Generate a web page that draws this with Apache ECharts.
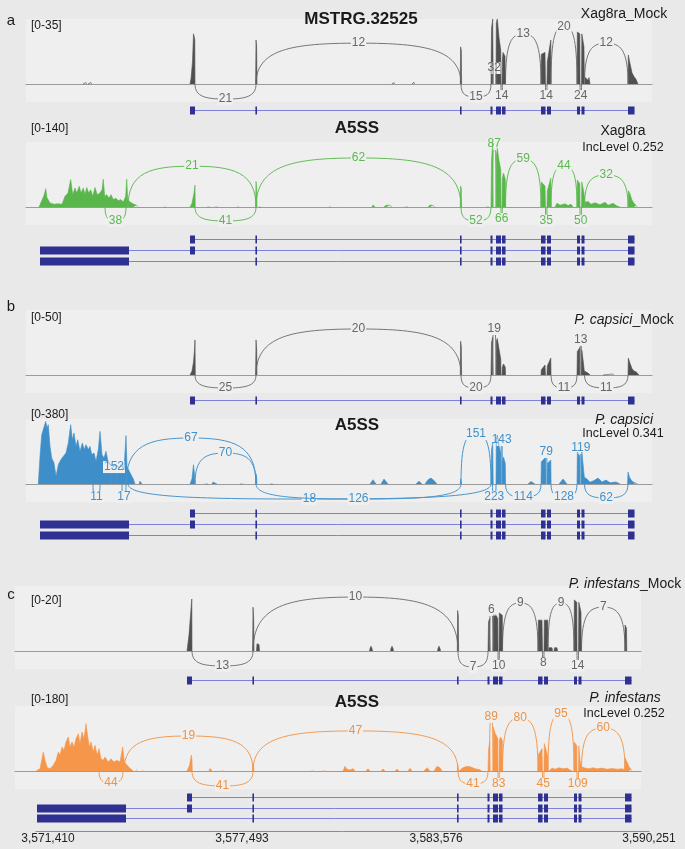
<!DOCTYPE html>
<html>
<head>
<meta charset="utf-8">
<title>MSTRG.32525 sashimi</title>
<script src="https://cdn.jsdelivr.net/npm/echarts@6/dist/echarts.min.js"></script>
<style>
  html, body { margin: 0; padding: 0; background: #e9e9e9; }
  #chart { width: 685px; height: 849px; }
</style>
</head>
<body>
<div id="chart"></div>
<script>
// read coverage, one list of [genomic position, reads] per covered stretch
const covXagMock = [
  [[3572507,0],[3572523,0.8],[3572601,0.8],[3572617,0]],
  [[3572664,0],[3572680,0.8],[3572758,0.8],[3572774,0]],
  [[3575862,0],[3575893,3],[3575940,12],[3575971,27],[3576012,24],[3576018,0]],
  [[3577918,0],[3577931,23.7],[3577950,20],[3577962,0]],
  [[3582194,0],[3582210,0.8],[3582257,0.8],[3582273,0]],
  [[3582821,0],[3582837,1],[3582884,1],[3582899,0]],
  [[3584335,0],[3584345,20],[3584367,18],[3584376,0]],
  [[3585298,0],[3585314,30],[3585351,35],[3585367,0]],
  [[3585455,0],[3585464,33],[3585496,35],[3585549,25],[3585605,18],[3585611,0]],
  [[3585643,0],[3585652,12],[3585674,17],[3585737,15],[3585752,0]],
  [[3586865,0],[3586875,16],[3586991,17],[3587006,0]],
  [[3587053,0],[3587063,12],[3587173,23.7],[3587179,0]],
  [[3587994,0],[3588004,28],[3588082,27],[3588088,0]],
  [[3588135,0],[3588145,27],[3588213,20],[3588223,4],[3588276,3],[3588339,2],[3588370,3.5],[3588402,0]],
  [[3589593,0],[3589603,15.6],[3589656,11],[3589718,6],[3589781,4],[3589844,2.5],[3589906,0]]
];
const covXag = [
  [[3571128,0],[3571159,5],[3571222,15],[3571284,25],[3571338,39.5],[3571378,20],[3571473,8.6],[3571598,6],[3571723,7],[3571849,6],[3571943,23],[3572037,30],[3572121,59],[3572184,26.5],[3572256,41],[3572309,30],[3572391,44.5],[3572444,30],[3572516,41],[3572570,26.5],[3572623,42],[3572686,30],[3572748,37],[3572811,23],[3572883,42],[3572955,26.5],[3573040,30],[3573103,37],[3573143,60],[3573187,23],[3573250,26.5],[3573322,19],[3573385,26.5],[3573457,16],[3573542,19],[3573614,13.6],[3573689,16],[3573771,10.8],[3573846,23],[3573877,60],[3573909,16],[3573981,10.8],[3574085,6.5],[3574190,3.6],[3574241,0]],
  [[3575046,0],[3575078,2.5],[3575109,0]],
  [[3575862,0],[3575924,8],[3575987,30],[3576018,47],[3576027,0]],
  [[3576394,0],[3576426,3],[3576489,0]],
  [[3576645,0],[3576677,3.5],[3576739,0]],
  [[3577335,0],[3577366,3],[3577398,0]],
  [[3577918,0],[3577931,55],[3577950,40],[3577962,0]],
  [[3578025,0],[3578056,2.5],[3578087,0]],
  [[3580219,0],[3580251,2.5],[3580282,0]],
  [[3581567,0],[3581599,4.5],[3581661,0]],
  [[3581943,0],[3582006,4],[3582132,3.5],[3582194,0]],
  [[3582602,0],[3582633,3],[3582696,0]],
  [[3583323,0],[3583386,4.3],[3583480,3],[3583542,0]],
  [[3584335,0],[3584345,45],[3584367,40],[3584376,0]],
  [[3585141,0],[3585172,4],[3585235,0]],
  [[3585298,0],[3585314,100],[3585351,138],[3585367,0]],
  [[3585455,0],[3585464,110],[3585496,127],[3585549,100],[3585605,80],[3585611,0]],
  [[3585643,0],[3585652,60],[3585690,73],[3585746,60],[3585755,0]],
  [[3586865,0],[3586875,54],[3586991,45],[3587006,0]],
  [[3587053,0],[3587063,35],[3587173,62],[3587182,0]],
  [[3587304,0],[3587367,8],[3587461,4],[3587618,7],[3587712,3],[3587806,6],[3587868,0]],
  [[3587994,0],[3588004,58],[3588082,50],[3588088,0]],
  [[3588135,0],[3588145,54],[3588213,30],[3588245,10],[3588339,12],[3588433,6],[3588558,9],[3588715,5],[3588872,10],[3588966,4],[3589123,8],[3589248,2],[3589342,0]],
  [[3589593,0],[3589609,35],[3589656,28],[3589718,15],[3589781,8],[3589844,3],[3589875,0]]
];
const covCapMock = [
  [[3575862,0],[3575924,3],[3575971,10],[3576006,20],[3576018,27],[3576027,0]],
  [[3577918,0],[3577931,27],[3577950,20],[3577962,0]],
  [[3584335,0],[3584345,26],[3584367,22],[3584376,0]],
  [[3585298,0],[3585314,25],[3585351,29],[3585367,0]],
  [[3585455,0],[3585464,26],[3585496,28],[3585549,20],[3585605,12],[3585611,0]],
  [[3585643,0],[3585652,6],[3585690,8.5],[3585746,6],[3585755,0]],
  [[3586865,0],[3586875,4],[3586991,7.7],[3587006,0]],
  [[3587053,0],[3587063,7],[3587173,13],[3587179,0]],
  [[3587994,0],[3588004,18],[3588082,21],[3588088,0]],
  [[3588135,0],[3588145,19],[3588182,12],[3588223,3],[3588276,2.3],[3588339,1.5],[3588402,0]],
  [[3588809,0],[3588825,0.8],[3589123,0.8],[3589139,0]],
  [[3589593,0],[3589603,13],[3589656,9],[3589718,5],[3589781,3],[3589844,2.5],[3589906,1],[3589937,0]]
];
const covCap = [
  [[3571106,0],[3571159,162],[3571212,288],[3571262,279],[3571338,366],[3571378,327],[3571419,347],[3571473,220],[3571526,152],[3571598,123],[3571661,45],[3571733,113],[3571786,133],[3571849,152],[3571911,142],[3571974,181],[3572046,240],[3572121,347],[3572172,259],[3572225,298],[3572288,220],[3572341,259],[3572413,191],[3572485,240],[3572548,201],[3572601,230],[3572673,201],[3572727,220],[3572780,172],[3572852,181],[3572915,133],[3572987,201],[3573040,308],[3573103,172],[3573165,152],[3573228,191],[3573291,133],[3573354,113],[3573457,103],[3573542,113],[3573636,94],[3573698,113],[3573792,84],[3573855,283],[3573886,103],[3573959,74],[3574012,55],[3574084,29],[3574137,0]],
  [[3574263,0],[3574294,16],[3574357,0]],
  [[3575862,0],[3575924,30],[3575971,113],[3576002,60],[3576024,0]],
  [[3576332,0],[3576363,10],[3576426,0]],
  [[3576551,0],[3576583,12],[3576645,8],[3576708,0]],
  [[3577429,0],[3577461,8],[3577523,0]],
  [[3577918,0],[3577931,60],[3577950,40],[3577962,0]],
  [[3578370,0],[3578401,10],[3578464,0]],
  [[3581505,0],[3581599,25],[3581693,0]],
  [[3581849,0],[3581943,29],[3582069,0]],
  [[3582947,0],[3583041,16],[3583135,0]],
  [[3583229,0],[3583323,25],[3583417,35],[3583511,20],[3583605,0]],
  [[3584335,0],[3584345,30],[3584367,25],[3584376,0]],
  [[3585298,0],[3585314,200],[3585351,245],[3585367,0]],
  [[3585455,0],[3585464,260],[3585496,286],[3585549,220],[3585605,180],[3585611,0]],
  [[3585643,0],[3585652,130],[3585690,158],[3585746,120],[3585755,0]],
  [[3586458,0],[3586552,15],[3586677,0]],
  [[3586865,0],[3586875,130],[3586991,152],[3587006,0]],
  [[3587053,0],[3587063,120],[3587173,140],[3587182,0]],
  [[3587430,0],[3587555,29],[3587680,0]],
  [[3587994,0],[3588004,187],[3588082,160],[3588088,0]],
  [[3588135,0],[3588145,187],[3588182,120],[3588223,40],[3588307,29],[3588402,10],[3588527,20],[3588652,35],[3588778,12],[3588903,23],[3589029,8],[3589217,12],[3589342,0]],
  [[3589577,0],[3589593,70],[3589640,40],[3589687,25],[3589750,12],[3589844,5],[3589906,0]]
];
const covInfMock = [
  [[3575862,0],[3575924,5],[3575987,13],[3576012,16],[3576018,0]],
  [[3577918,0],[3577931,13.5],[3577950,10],[3577962,0]],
  [[3578040,0],[3578056,2.2],[3578119,2],[3578135,0]],
  [[3581583,0],[3581599,0.8],[3581630,1.5],[3581661,0.8],[3581677,0]],
  [[3582241,0],[3582257,0.8],[3582288,1.5],[3582320,0.8],[3582335,0]],
  [[3583715,0],[3583730,0.8],[3583762,1.5],[3583793,0.8],[3583809,0]],
  [[3584335,0],[3584345,12.5],[3584367,11],[3584376,0]],
  [[3585298,0],[3585314,9],[3585351,10],[3585367,0]],
  [[3585455,0],[3585464,11],[3585549,11],[3585605,10],[3585611,0]],
  [[3585643,0],[3585652,11.7],[3585746,11],[3585755,0]],
  [[3586865,0],[3586875,9.5],[3586991,9.5],[3587006,0]],
  [[3587053,0],[3587063,9.5],[3587173,9.5],[3587179,0]],
  [[3587195,0],[3587210,1],[3587304,1],[3587320,0]],
  [[3587367,0],[3587383,1],[3587461,1],[3587477,0]],
  [[3587994,0],[3588004,15.7],[3588082,15],[3588088,0]],
  [[3588135,0],[3588145,15],[3588213,12],[3588223,0]],
  [[3589587,0],[3589593,8],[3589640,7],[3589649,0]]
];
const covInf = [
  [[3571128,0],[3571253,6.5],[3571357,52.6],[3571410,29.5],[3571482,9.2],[3571567,6.5],[3571670,15.7],[3571755,29.5],[3571827,52.6],[3571880,43.4],[3571943,66.5],[3572005,57.2],[3572068,80.3],[3572140,94],[3572194,66.5],[3572256,80.3],[3572319,66.5],[3572382,89.5],[3572454,103],[3572507,75.7],[3572570,108],[3572632,89.5],[3572695,131],[3572736,103],[3572799,66.5],[3572852,80.3],[3572924,52.6],[3572977,71],[3573049,43.4],[3573103,61.8],[3573165,34],[3573237,29.5],[3573291,38.8],[3573394,25],[3573479,34],[3573573,25],[3573658,29.5],[3573761,25],[3573846,66.5],[3573896,25],[3573949,20.3],[3574053,9.2],[3574106,6.5],[3574178,0]],
  [[3574263,0],[3574294,5],[3574325,0]],
  [[3574451,0],[3574482,4],[3574513,0]],
  [[3575862,0],[3575940,15],[3575996,44],[3576018,30],[3576027,0]],
  [[3576551,0],[3576583,7],[3576645,0]],
  [[3576927,0],[3576959,5],[3577021,0]],
  [[3577918,0],[3577931,20],[3577950,12],[3577962,0]],
  [[3579749,0],[3579780,5.5],[3579843,0]],
  [[3580094,0],[3580125,5],[3580188,0]],
  [[3580752,0],[3580815,13],[3580878,5],[3580972,3],[3581066,6.5],[3581128,0]],
  [[3581473,0],[3581536,6],[3581599,0]],
  [[3581943,0],[3582006,5.5],[3582069,0]],
  [[3582382,0],[3582445,5],[3582508,0]],
  [[3582790,0],[3582853,7.4],[3582915,0]],
  [[3583291,0],[3583386,9.2],[3583480,0]],
  [[3583605,0],[3583699,13],[3583793,9],[3583856,0]],
  [[3584335,0],[3584345,20],[3584367,15],[3584376,0]],
  [[3584389,0],[3584514,9],[3584640,13],[3584765,11],[3584890,6],[3585016,4],[3585110,0]],
  [[3585298,0],[3585314,60],[3585351,80],[3585367,0]],
  [[3585455,0],[3585464,122],[3585517,105],[3585605,90],[3585611,0]],
  [[3585643,0],[3585652,85],[3585690,94],[3585746,85],[3585755,0]],
  [[3586865,0],[3586875,45],[3586991,62],[3587006,0]],
  [[3587053,0],[3587063,76],[3587173,40],[3587182,0]],
  [[3587210,0],[3587304,8],[3587398,5],[3587524,9],[3587649,6],[3587775,8],[3587868,3],[3587931,0]],
  [[3587994,0],[3588004,80],[3588082,70],[3588088,0]],
  [[3588135,0],[3588145,70],[3588182,30],[3588223,12],[3588339,8],[3588464,6],[3588590,9],[3588715,6],[3588872,8],[3589029,5],[3589185,7],[3589342,5],[3589499,6],[3589577,4],[3589593,36],[3589656,25],[3589718,12],[3589781,5],[3589812,0]]
];

// junctions: [donor, acceptor, arc height (negative = drawn below), read count]
const juncXagMock = [
  [3577931,3584357,22,'12'],[3576018,3577931,-8.1,'21'],[3584357,3585298,-7,'15'],
  [3585345,3585455,8.6,'32'],[3585611,3585652,-6.5,'14'],[3585752,3586865,27,'13'],
  [3587006,3587053,-6.5,'14'],[3587179,3587994,31,'20'],[3588088,3588135,-6.5,'24'],
  [3588229,3589593,22,'12']
];
const juncXag = [
  [3573197,3573855,-30,'38'],[3573918,3577931,88,'21'],[3576018,3577931,-30,'41'],
  [3577931,3584357,105.6,'62'],[3584357,3585298,-30,'52'],[3585345,3585455,136,'87'],
  [3585611,3585652,-26,'66'],[3585752,3586865,103,'59'],[3587006,3587053,-30,'35'],
  [3587179,3587994,88,'44'],[3588088,3588135,-30,'50'],[3588229,3589593,69,'32']
];
const juncCapMock = [
  [3576018,3577931,-10,'25'],[3577931,3584357,35.4,'20'],[3584357,3585298,-10,'20'],
  [3585345,3585455,35.4,'19'],[3587179,3587994,-10,'11'],[3588088,3588135,27,'13'],
  [3588229,3589593,-10,'11']
];
const juncCap = [
  [3573855,3577931,269,'67'],[3576018,3577931,181,'70'],[3573385,3573573,99,'152'],
  [3572821,3573040,-76,'11'],[3573730,3573855,-76,'17'],[3573918,3585298,-88,'18'],
  [3577931,3584357,-88,'126'],[3584357,3585298,292,'151'],[3585345,3585455,-76,'223'],
  [3585611,3585652,257,'143'],[3585752,3586865,-76,'114'],[3587006,3587053,187,'79'],
  [3587179,3587994,-76,'128'],[3588088,3588135,210,'119'],[3588229,3589593,-82,'62']
];
const juncInfMock = [
  [3576018,3577931,-4.6,'13'],[3577931,3584357,16.6,'10'],[3584357,3585298,-4.9,'7'],
  [3585345,3585455,12.6,'6'],[3585611,3585652,-4.6,'10'],[3585752,3586865,14.8,'9'],
  [3587006,3587053,-3.7,'8'],[3587179,3587994,14.8,'9'],[3588088,3588135,-4.6,'14'],
  [3588229,3589593,13.5,'7']
];
const juncInf = [
  [3573103,3573855,-33,'44'],[3573886,3577931,97,'19'],[3576018,3577931,-41.5,'41'],
  [3577931,3584357,111,'47'],[3584357,3585298,-36,'41'],[3585345,3585455,150,'89'],
  [3585611,3585652,-36,'83'],[3585752,3586865,147,'80'],[3587006,3587053,-36,'45'],
  [3587179,3587994,158,'95'],[3588088,3588135,-36,'109'],[3588229,3589593,119,'60']
];

// gene model
const exons = [
  [3571159,3573949],[3575862,3576018],[3577912,3577962],[3584326,3584373],
  [3585282,3585345],[3585455,3585612],[3585643,3585753],[3586866,3587007],
  [3587054,3587179],[3587994,3588088],[3588135,3588229],[3589593,3589797]
];
const mockModel = [[1,2,3,4,5,6,7,8,9,10,11]];
const a5ssModel = [[1,2,3,4,5,6,7,8,9,10,11],[0,1,2,3,4,5,6,7,8,9,10,11],[0,2,3,4,5,6,7,8,9,10,11]];

const rangeMax = [35, 140, 50, 380, 20, 180];
const axisTicks = [3571410, 3577493, 3583576, 3590251];

const BG = '#efefef';
const FONT = '"Liberation Sans", Arial, sans-serif';

const panelX = [
  {left: 26, width: 626, min: 3570720, max: 3590345},
  {left: 26, width: 626, min: 3570720, max: 3590345},
  {left: 15, width: 626, min: 3570469, max: 3590094}
];
const tracks = [
  {cov: covXagMock, junc: juncXagMock, max: rangeMax[0], base: 84, panel: 0, fill: '#505050', arc: '#767676', label: '#666666'},
  {cov: covXag, junc: juncXag, max: rangeMax[1], base: 207, panel: 0, fill: '#59b64b', arc: '#62bd57', label: '#5cb851'},
  {cov: covCapMock, junc: juncCapMock, max: rangeMax[2], base: 375, panel: 1, fill: '#505050', arc: '#767676', label: '#666666'},
  {cov: covCap, junc: juncCap, max: rangeMax[3], base: 484, panel: 1, fill: '#3e8ec9', arc: '#4995cd', label: '#4490c8'},
  {cov: covInfMock, junc: juncInfMock, max: rangeMax[4], base: 651, panel: 2, fill: '#505050', arc: '#767676', label: '#666666'},
  {cov: covInf, junc: juncInf, max: rangeMax[5], base: 771, panel: 2, fill: '#f5964b', arc: '#f29b52', label: '#ef9245'}
];
const geneTracks = [
  {model: mockModel, panel: 0, top: 104.5},
  {model: a5ssModel, panel: 0, top: 234},
  {model: mockModel, panel: 1, top: 394.5},
  {model: a5ssModel, panel: 1, top: 508},
  {model: mockModel, panel: 2, top: 674.5},
  {model: a5ssModel, panel: 2, top: 791.5}
];

function withGaps(features) {
  const out = [];
  features.forEach(f => {
    f.forEach(p => out.push(p));
    out.push([f[f.length - 1][0], '-']);
  });
  return out;
}

function modelData(model) {
  const out = [];
  model.forEach((tx, row) => {
    out.push([exons[tx[0]][0], exons[tx[tx.length - 1]][1], row + 0.5, 0]);
    tx.forEach(i => out.push([exons[i][0], exons[i][1], row + 0.5, 1]));
  });
  return out;
}

function arcRenderer(color, textColor) {
  return function (params, api) {
    const s = api.coord([api.value(0), 0]);
    const e = api.coord([api.value(1), 0]);
    const t = api.coord([(api.value(0) + api.value(1)) / 2, api.value(2)]);
    const x1 = s[0], x2 = e[0], b = s[1], a = t[1];
    const xm = (x1 + x2) / 2, hw = (x2 - x1) / 2;
    const knee = a + (b - a) * 0.15;
    const d = 'M' + x1 + ' ' + b +
      'C' + x1 + ' ' + knee + ' ' + (x1 + hw * 0.35) + ' ' + a + ' ' + xm + ' ' + a +
      'C' + (x2 - hw * 0.35) + ' ' + a + ' ' + x2 + ' ' + knee + ' ' + x2 + ' ' + b;
    return {
      type: 'group',
      children: [
        {type: 'path', shape: {pathData: d}, style: {stroke: color, fill: 'none', lineWidth: 1}},
        {type: 'text', style: {
          text: String(api.value(3)), x: xm, y: a, align: 'center', verticalAlign: 'middle',
          fill: textColor, font: '12px ' + FONT, backgroundColor: BG, padding: [0, 1]
        }}
      ]
    };
  };
}

function geneRenderer(params, api) {
  const s = api.coord([api.value(0), api.value(2)]);
  const e = api.coord([api.value(1), api.value(2)]);
  const y = Math.round(s[1]);
  if (api.value(3) === 0) {
    return {type: 'line', shape: {x1: s[0], y1: y + 0.5, x2: e[0], y2: y + 0.5},
      style: {stroke: '#7d81da', lineWidth: 1}};
  }
  return {type: 'rect', shape: {x: s[0], y: y - 3.5, width: Math.max(e[0] - s[0], 1.6), height: 8},
    style: {fill: '#2e3192'}};
}

const grid = [], xAxis = [], yAxis = [], series = [];
const hidden = {axisLine: {show: false}, axisTick: {show: false}, axisLabel: {show: false}, splitLine: {show: false}};

tracks.forEach((t, i) => {
  const px = panelX[t.panel];
  grid.push({left: px.left, width: px.width, top: t.base - 65, height: 83,
    show: true, backgroundColor: BG, borderWidth: 0});
  xAxis.push({gridIndex: i, type: 'value', min: px.min, max: px.max,
    axisLine: {show: true, onZero: true, lineStyle: {color: '#9b9b9b', width: 1}},
    axisTick: {show: false}, axisLabel: {show: false}, splitLine: {show: false}});
  yAxis.push(Object.assign({gridIndex: i, type: 'value', min: -t.max * 18 / 65, max: t.max}, hidden));
  series.push({type: 'line', xAxisIndex: i, yAxisIndex: i, data: withGaps(t.cov),
    symbol: 'none', silent: true, animation: false,
    lineStyle: {color: t.fill, width: 0.6}, areaStyle: {color: t.fill, opacity: 1}});
  series.push({type: 'custom', xAxisIndex: i, yAxisIndex: i, data: t.junc, z: 3,
    silent: true, renderItem: arcRenderer(t.arc, t.label)});
});

geneTracks.forEach((g, j) => {
  const gi = tracks.length + j;
  const px = panelX[g.panel];
  const rows = g.model.length;
  grid.push({left: px.left, width: px.width, top: g.top, height: rows === 1 ? 11 : 32});
  xAxis.push(Object.assign({gridIndex: gi, type: 'value', min: px.min, max: px.max}, hidden));
  yAxis.push(Object.assign({gridIndex: gi, type: 'value', min: 0, max: rows, inverse: true}, hidden));
  series.push({type: 'custom', xAxisIndex: gi, yAxisIndex: gi, data: modelData(g.model),
    silent: true, renderItem: geneRenderer});
});

// genomic coordinate axis under panel c
const ai = grid.length;
grid.push({left: 36, width: 613, top: 830, height: 1});
xAxis.push({gridIndex: ai, type: 'value', min: 3571034, max: 3590251,
  axisLine: {show: true, onZero: false, lineStyle: {color: '#8c8c8c', width: 1}},
  axisTick: {show: false}, splitLine: {show: false},
  axisLabel: {customValues: axisTicks, formatter: v => Number(v).toLocaleString('en-US'),
    color: '#222', fontSize: 12, fontFamily: FONT, margin: 2}});
yAxis.push(Object.assign({gridIndex: ai, type: 'value'}, hidden));

// text labels
function txt(text, x, y, font, align, rich) {
  const style = {text: text, font: font + ' ' + FONT, fill: '#1a1a1a',
    align: align || 'center', verticalAlign: 'middle'};
  if (rich) style.rich = rich;
  return {type: 'text', x: x, y: y, silent: true, style: style};
}
const it = {i: {fontStyle: 'italic', fontSize: 14, fontFamily: FONT, fill: '#1a1a1a'}};
const rangeY = [26, 129, 318, 415, 601, 700];
const graphic = [
  txt('a', 11, 21, '15px'), txt('b', 11, 307, '15px'), txt('c', 11, 595, '15px'),
  txt('MSTRG.32525', 361, 19, 'bold 17px'),
  txt('A5SS', 357, 128.5, 'bold 17px'), txt('A5SS', 357, 425, 'bold 17px'), txt('A5SS', 357, 702.5, 'bold 17px'),
  txt('Xag8ra_Mock', 624, 14, '14px'),
  txt('Xag8ra', 623, 131, '14px'), txt('IncLevel 0.252', 623, 147.5, '12.5px'),
  txt('{i|P. capsici}_Mock', 624, 320.5, '14px', 'center', it),
  txt('{i|P. capsici}', 624, 420, '14px', 'center', it), txt('IncLevel 0.341', 623, 434, '12.5px'),
  txt('{i|P. infestans}_Mock', 625, 584, '14px', 'center', it),
  txt('{i|P. infestans}', 625, 698, '14px', 'center', it), txt('IncLevel 0.252', 624, 714, '12.5px')
];
rangeMax.forEach((m, i) => graphic.push(txt('[0-' + m + ']', 31, rangeY[i], '12px', 'left')));

const chart = echarts.init(document.getElementById('chart'), null, {renderer: 'canvas'});
chart.setOption({
  backgroundColor: '#e9e9e9',
  animation: false,
  grid: grid,
  xAxis: xAxis,
  yAxis: yAxis,
  series: series,
  graphic: graphic
});
</script>
</body>
</html>
